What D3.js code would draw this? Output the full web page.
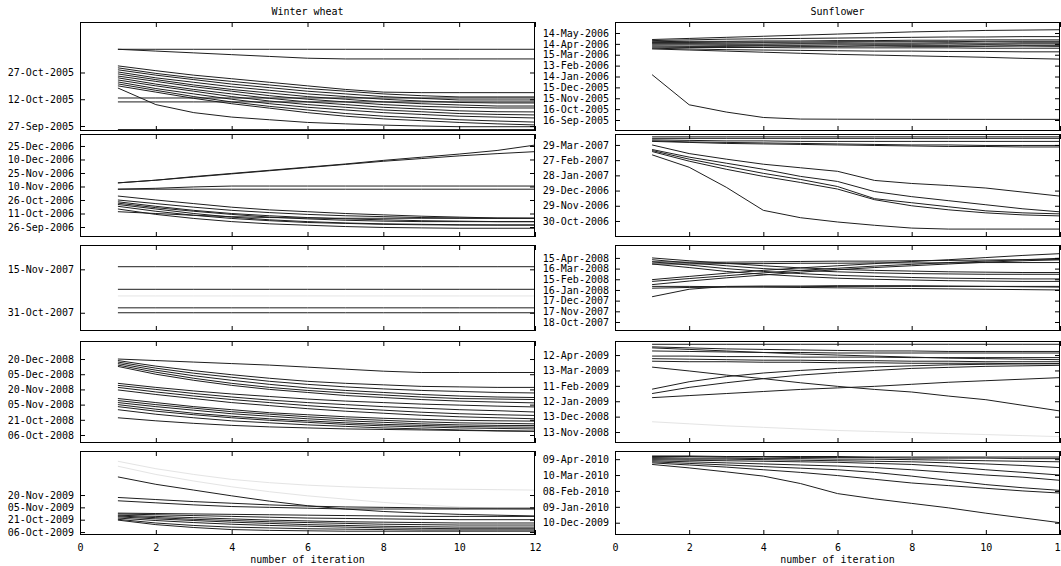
<!DOCTYPE html>
<html>
<head>
<meta charset="utf-8">
<script src="https://cdn.jsdelivr.net/npm/d3@7"></script>
<style>
    body { margin: 0; background: #fff; }
    svg { display: block; font-family: "DejaVu Sans Mono", monospace; font-size: 10px; }
    .frame { fill: none; stroke: #000; stroke-width: 1; }
    .run { fill: none; stroke: #1e1e1e; stroke-width: 1; }
    .run.light { stroke: #e4e4e4; }
</style>
</head>
<body>
<svg id="chart" width="1061" height="566"></svg>
<script>
// iterations on the x axis
const iterations = [1, 2, 3, 4, 5, 6, 7, 8, 9, 10, 11, 12];
const iterationTicks = [0, 2, 4, 6, 8, 10, 12];
const cropTitles = ["Winter wheat", "Sunflower"];

// every value is a number of days after the panel's base date

// Winter wheat 2005
const wheat05Base = "2005-09-27";
const wheat05Range = [-2.8, 58.3];
const wheat05Ticks = ["2005-09-27", "2005-10-12", "2005-10-27"];
const wheat05 = [
    [43, 43, 43, 43, 43, 43, 43, 43, 43, 43, 43, 43],
    [43, 42, 41, 40, 39, 38, 37.6, 37.6, 37.6, 37.6, 37.6, 37.6],
    [33.7, 31, 28.5, 26.5, 24.5, 22.5, 20.5, 19, 18.7, 18.7, 18.7, 18.7],
    [32.6, 29.5, 27, 25, 23, 21, 19.5, 18, 17, 16.3, 16.3, 16.3],
    [31.5, 28.5, 26, 23.5, 21.5, 19.5, 18, 16.5, 15.5, 14.6, 14.6, 14.6],
    [30.3, 27, 24.5, 22, 20, 18, 16.5, 15, 14, 13.2, 12.9, 12.9],
    [29.2, 26, 23, 20.5, 18.5, 16.5, 15, 13.5, 12.5, 11.8, 11.2, 11.2],
    [28, 25, 22, 19.5, 17, 15, 13.5, 12, 11, 10.5, 10.1, 10.1],
    [27, 23.5, 20.5, 18, 15.5, 13.5, 12, 10.5, 9.5, 8.5, 8, 7.9],
    [25.8, 22.5, 19.5, 16.5, 14, 12, 10.5, 9, 8, 7, 6.5, 6.2],
    [24.7, 21, 18, 15, 12.5, 10.5, 9, 7.5, 6.5, 5.5, 5, 4.5],
    [23.6, 20, 16.5, 13.5, 11, 9, 7, 5.5, 4.5, 3.5, 2.8, 2.2],
    [22.5, 19, 15.5, 12.5, 10, 7.5, 5.5, 4, 3, 2, 1.2, 0.6],
    [21.3, 12, 7.5, 5, 3.5, 2, 1.2, 0.5, 0, -0.4, -0.4, -0.4],
    [15.7, 15.7, 15.7, 15.7, 15.7, 15.7, 15.7, 15.7, 15.7, 15.7, 15.7, 15.7],
    [13.5, 13.5, 13.5, 13.5, 13.5, 13.5, 13.5, 13.5, 13.5, 13.5, 13.5, 13.5],
    [-2, -2, -2, -2, -2, -2, -2, -2, -2, -2, -2, -2]
];

// Winter wheat 2006
const wheat06Base = "2006-09-26";
const wheat06Range = [-11.1, 103.3];
const wheat06Ticks = ["2006-09-26", "2006-10-11", "2006-10-26", "2006-11-10", "2006-11-25", "2006-12-10", "2006-12-25"];
const wheat06 = [
    [49, 52, 56, 59.5, 63, 66.5, 70, 74, 77.5, 81, 85, 91],
    [49, 52, 55.5, 59, 62.5, 66, 69.5, 73, 76, 79, 81.5, 83.7],
    [42, 42, 42, 42, 42, 42, 42, 42, 42, 42, 42, 42],
    [42, 43, 44.5, 45.5, 45.5, 45.5, 45.5, 45.5, 45.5, 45.5, 45.5, 45.5],
    [34.4, 30, 26, 22, 19, 17, 15, 13.5, 12, 11, 10, 9.7],
    [30, 26, 22, 18.5, 16, 14, 12.5, 11.5, 10.5, 10, 9.7, 9.7],
    [28, 23, 18.5, 15, 12.5, 10.5, 9, 8, 7, 6.5, 6, 6],
    [26.5, 21.5, 17.5, 14, 11, 9, 7.5, 6.5, 6, 6, 5.9, 5.9],
    [25, 20, 15, 11, 8, 6, 4.5, 3.5, 3, 2.5, 2.2, 2.2],
    [23, 17.5, 13, 9.5, 7, 5, 4, 3, 2.5, 2.2, 2.2, 2.2],
    [20, 14, 9.5, 6, 3.5, 2, 0.5, -0.5, -1, -1.4, -1.4, -1.4],
    [17, 15, 13, 11.5, 10.5, 10, 9.7, 9.7, 9.7, 9.7, 9.7, 9.7]
];

// Winter wheat 2007
const wheat07Base = "2007-10-31";
const wheat07Range = [-6.3, 23.4];
const wheat07Ticks = ["2007-10-31", "2007-11-15"];
const wheat07 = [
    [15.9, 15.9, 15.9, 15.9, 15.9, 15.9, 15.9, 15.9, 15.9, 15.9, 15.9, 15.9],
    [8.1, 8.1, 8.1, 8.1, 8.1, 8.1, 8.1, 8.1, 8.1, 8.1, 8.1, 8.1],
    [1.7, 1.7, 1.7, 1.7, 1.7, 1.7, 1.7, 1.7, 1.7, 1.7, 1.7, 1.7],
    [0, 0, 0, 0, 0, 0, 0, 0, 0, 0, 0, 0]
];
const wheat07Light = [
    [5.8, 5.8, 5.8, 5.8, 5.8, 5.8, 5.8, 5.8, 5.8, 5.8, 5.8, 5.8]
];

// Winter wheat 2008
const wheat08Base = "2008-10-06";
const wheat08Range = [-7.9, 92.8];
const wheat08Ticks = ["2008-10-06", "2008-10-21", "2008-11-05", "2008-11-20", "2008-12-05", "2008-12-20"];
const wheat08 = [
    [75, 73.5, 72, 70.5, 69, 67, 65, 63, 61.7, 61.7, 61.7, 61.7],
    [73.5, 68, 63.5, 59.5, 56, 53, 51, 49.5, 48, 47.5, 47, 47],
    [72, 66, 61, 57, 53, 50, 47.5, 45.5, 44, 43, 42, 41.5],
    [70.5, 64, 58.5, 54, 50, 46.5, 44, 42, 40, 38.5, 37.5, 37],
    [69, 62, 56, 51, 47, 44, 41.5, 39.5, 37.5, 36, 35.5, 35],
    [67.7, 60, 54, 49, 45, 42, 39, 37, 35, 33.5, 32.5, 31.7],
    [51, 47, 43.5, 40.5, 38, 35.5, 33.5, 32, 30.5, 29.5, 28.5, 27.7],
    [49, 45, 41, 37.5, 34.5, 32, 30, 28, 26.5, 25, 24, 22.7],
    [47, 42.5, 38.5, 35, 32, 29, 26.5, 24.5, 22.5, 21, 20, 19.3],
    [44.5, 40, 36, 32, 29, 26, 23.5, 21.5, 19.5, 18, 17, 16],
    [36, 32, 28, 25, 22, 20, 18, 16.5, 15.5, 14.5, 14, 13.7],
    [34, 30, 26.5, 23, 20.5, 18, 16, 14.5, 13, 12, 11.5, 11],
    [32, 28, 24.5, 21, 18.5, 16, 14, 12.5, 11, 10, 9.5, 9.3],
    [30, 25.5, 21.5, 18.5, 16, 14, 12, 10.5, 9.5, 8.5, 8, 7.7],
    [28, 23.5, 20, 17, 14.5, 12.5, 10.5, 9, 8, 7, 6.5, 6],
    [25, 20.5, 17, 14, 12, 10, 8.5, 7, 6, 5, 4.2, 3.7],
    [17, 14, 11.5, 9.5, 8, 7, 6, 5.5, 5, 4.5, 4, 3.7]
];

// Winter wheat 2009
const wheat09Base = "2009-10-06";
const wheat09Range = [-3.6, 98.5];
const wheat09Ticks = ["2009-10-06", "2009-10-21", "2009-11-05", "2009-11-20"];
const wheat09 = [
    [67, 58, 51, 44, 37.5, 32, 28, 25, 23, 21.5, 20.5, 19.5],
    [42, 39.5, 37, 35, 33, 31.5, 30.5, 30, 29.5, 29, 29, 29],
    [38, 35.5, 33, 31, 30, 29, 28, 28, 28, 28, 28, 28],
    [23, 22.5, 22, 21.5, 21, 20.5, 20, 19.5, 19, 19, 19, 19],
    [22, 21, 20, 19, 18, 17, 16.5, 16, 15.5, 15, 15, 15],
    [20.5, 19, 17.5, 16, 14.5, 13.5, 12.5, 12, 11.5, 11, 11, 11],
    [19.5, 17.5, 15.5, 14, 12.5, 11.5, 10.5, 9.5, 9, 8.5, 8.5, 8.5],
    [18.5, 16, 14, 12, 10.5, 9, 8, 7, 6.5, 6, 6, 6],
    [17, 14, 11.5, 9.5, 8, 7, 6, 5, 4.5, 4, 4, 4],
    [15.5, 11, 8, 6, 5, 4, 3.5, 3, 2.5, 2.5, 2.5, 2.5],
    [14.5, 9, 5.5, 3, 2, 1.5, 1, 1, 1, 1, 1, 1]
];
const wheat09Light = [
    [86, 77, 70, 64, 60, 57, 55, 53.5, 52.5, 52, 51.5, 51],
    [80, 70, 62, 55, 49, 44, 40, 36, 33, 30.5, 28.5, 27]
];

// Sunflower 2006
const sun06Base = "2005-09-16";
const sun06Range = [-30.3, 270.3];
const sun06Ticks = ["2005-09-16", "2005-10-16", "2005-11-15", "2005-12-15", "2006-01-14", "2006-02-13", "2006-03-15", "2006-04-14", "2006-05-14"];
const sun06 = [
    [222, 225, 228, 231, 234, 237, 240, 243, 245, 247, 248, 249],
    [219, 221, 223, 224, 225, 226, 227, 228, 229, 229, 230, 230],
    [216, 217, 217, 218, 218, 219, 219, 220, 220, 221, 221, 221],
    [214, 214, 215, 215, 215, 216, 216, 216, 216, 217, 217, 217],
    [212, 212, 212, 213, 212, 213, 212, 212, 213, 212, 213, 213],
    [210, 210, 209, 209, 210, 210, 209, 209, 210, 209, 210, 210],
    [207, 207, 206, 206, 206, 207, 206, 206, 206, 207, 206, 206],
    [204, 203, 203, 204, 203, 203, 204, 203, 203, 203, 204, 203],
    [201, 200, 200, 200, 199, 199, 199, 199, 199, 198, 198, 198],
    [198, 196, 194, 193, 192, 191, 190, 190, 189, 189, 188, 188],
    [196, 193, 190, 187, 184, 181, 179, 177, 175, 173, 170, 168],
    [125, 42, 22, 7, 2.6, 2.2, 2, 1.8, 1.8, 1.8, 1.8, 1.8]
];

// Sunflower 2007
const sun07Base = "2006-10-30";
const sun07Range = [-31.6, 171.6];
const sun07Ticks = ["2006-10-30", "2006-11-29", "2006-12-29", "2007-01-28", "2007-02-27", "2007-03-29"];
const sun07 = [
    [166, 166, 166, 166, 166, 166, 166, 166, 166, 166, 166, 166],
    [163, 163, 163, 163, 163, 163, 163, 163, 163, 163, 163, 163],
    [160, 159, 158, 158, 157, 157, 157, 157, 157, 157, 157, 157],
    [158, 156, 155, 154, 153, 152, 151, 150, 150, 149, 149, 149],
    [157, 155, 153, 152, 151, 150, 149, 148, 147, 147, 146, 146],
    [150, 133, 122, 112, 105, 98, 80, 74, 70, 65, 57, 49],
    [141, 126, 114, 102, 88, 78, 58, 48, 40, 32, 24, 18],
    [139, 122, 108, 94, 82, 68, 44, 36, 28, 20, 16, 14],
    [137, 118, 102, 88, 76, 63, 42, 30, 22, 16, 12, 10],
    [130.5, 106, 66.5, 21, 6.5, -2, -8.5, -14, -16, -16, -16, -16]
];

// Sunflower 2008
const sun08Base = "2007-10-18";
const sun08Range = [-25.3, 216.3];
const sun08Ticks = ["2007-10-18", "2007-11-17", "2007-12-17", "2008-01-16", "2008-02-15", "2008-03-16", "2008-04-15"];
const sun08 = [
    [119, 128, 137, 145, 152, 158, 164, 170, 175, 181, 187, 192],
    [114, 122, 130, 138, 145, 151, 157, 162, 167, 171, 175, 179],
    [105, 115, 124, 132, 140, 147, 153, 158, 163, 168, 172, 175],
    [71, 92, 100, 101, 101, 102, 102, 102, 101, 100, 99, 98],
    [180, 172, 165, 158, 152, 148, 145, 143, 141, 140, 139, 139],
    [175, 166, 158, 150, 145, 141, 138, 136, 135, 134, 134, 134],
    [169, 160, 150, 142, 136, 131, 128, 125, 123, 122, 121, 121],
    [163, 153, 142, 134, 128, 123, 120, 118, 116, 115, 114, 114],
    [100, 100, 99, 98, 97, 96, 95, 94, 93, 92, 91, 90],
    [95, 97, 98, 99, 99, 100, 100, 100, 100, 100, 100, 100],
    [163, 163, 164, 164, 165, 165, 166, 166, 166, 167, 167, 167],
    [169, 168, 168, 169, 170, 171, 171, 172, 173, 174, 175, 175]
];

// Sunflower 2009
const sun09Base = "2008-11-13";
const sun09Range = [-21.4, 177.4];
const sun09Ticks = ["2008-11-13", "2008-12-13", "2009-01-12", "2009-02-11", "2009-03-13", "2009-04-12"];
const sun09 = [
    [171, 171, 171, 171, 171, 171, 171, 171, 171, 171, 171, 171],
    [166, 164, 162, 161, 160, 159, 158, 158, 157, 157, 157, 157],
    [164, 161, 158, 155, 152, 150, 148, 146, 144, 143, 142, 141],
    [158, 157, 156, 155, 155, 154, 154, 154, 154, 154, 154, 154],
    [148, 148, 147, 147, 146, 146, 146, 145, 145, 145, 145, 145],
    [143, 142, 141, 140, 140, 139, 139, 138, 138, 137, 137, 137],
    [138, 137, 137, 136, 136, 135, 135, 134, 134, 134, 133, 133],
    [126.5, 119, 111, 104, 96, 89, 83, 78, 70, 63, 52, 41],
    [83.5, 98, 108, 115, 120, 124, 127, 129, 131, 132, 133, 133.5],
    [75, 87, 96, 104, 111, 116, 120, 124, 126, 128, 129, 130],
    [67, 71, 75, 79, 83, 86, 89, 93, 97, 100, 103, 106]
];
const sun09Light = [
    [20, 16, 12, 9, 6, 3, 1, -1, -3, -5, -7, -9]
];

// Sunflower 2010
const sun10Base = "2009-12-10";
const sun10Range = [-23.2, 135.4];
const sun10Ticks = ["2009-12-10", "2010-01-09", "2010-02-08", "2010-03-10", "2010-04-09"];
const sun10 = [
    [110, 103.5, 96, 88, 74, 55, 45, 36.5, 28, 18, 9, 0],
    [113, 109, 105, 100, 95, 89, 82, 75, 70, 65, 60, 56],
    [115, 112, 109, 106, 103, 100, 95, 88, 80, 72, 66, 61],
    [117, 115, 113, 111, 109, 107, 104, 100, 95, 90, 86, 80],
    [119, 118, 117, 116, 115, 114, 112, 110, 106, 100, 95, 90],
    [121, 120, 120, 119, 118, 117, 116, 115, 113, 111, 108, 104],
    [123, 122, 122, 121, 121, 120, 120, 119, 118, 117, 116, 115],
    [125, 125, 124, 124, 123, 123, 123, 122, 122, 122, 121, 121],
    [126, 126, 125, 125, 125, 125, 124, 124, 124, 124, 124, 124]
];

const panels = [
    { col: 0, row: 0, base: wheat05Base, range: wheat05Range, ticks: wheat05Ticks, runs: wheat05, light: [] },
    { col: 0, row: 1, base: wheat06Base, range: wheat06Range, ticks: wheat06Ticks, runs: wheat06, light: [] },
    { col: 0, row: 2, base: wheat07Base, range: wheat07Range, ticks: wheat07Ticks, runs: wheat07, light: wheat07Light },
    { col: 0, row: 3, base: wheat08Base, range: wheat08Range, ticks: wheat08Ticks, runs: wheat08, light: [] },
    { col: 0, row: 4, base: wheat09Base, range: wheat09Range, ticks: wheat09Ticks, runs: wheat09, light: wheat09Light },
    { col: 1, row: 0, base: sun06Base, range: sun06Range, ticks: sun06Ticks, runs: sun06, light: [] },
    { col: 1, row: 1, base: sun07Base, range: sun07Range, ticks: sun07Ticks, runs: sun07, light: [] },
    { col: 1, row: 2, base: sun08Base, range: sun08Range, ticks: sun08Ticks, runs: sun08, light: [] },
    { col: 1, row: 3, base: sun09Base, range: sun09Range, ticks: sun09Ticks, runs: sun09, light: sun09Light },
    { col: 1, row: 4, base: sun10Base, range: sun10Range, ticks: sun10Ticks, runs: sun10, light: [] }
];

// layout
const columns = [[80, 535], [615, 1060]];
const rows = [[22, 131], [134, 237], [245, 331], [341, 443], [451, 535]];
const tickLen = 5;

const parseDay = d3.utcParse("%Y-%m-%d");
const formatDay = d3.utcFormat("%d-%b-%Y");
const dayMs = 864e5;

function offsetDate(base, days) {
    return new Date(base.getTime() + days * dayMs);
}

const svg = d3.select("#chart");

function drawPanel(p, i) {
    const [x0, x1] = columns[p.col];
    const [y0, y1] = rows[p.row];
    const base = parseDay(p.base);

    const x = d3.scaleLinear().domain([0, 12]).range([x0, x1]);
    const y = d3.scaleUtc()
        .domain([offsetDate(base, p.range[0]), offsetDate(base, p.range[1])])
        .range([y1, y0]);

    const g = svg.append("g").attr("class", "panel");

    svg.append("clipPath").attr("id", `clip${i}`)
        .append("rect")
        .attr("x", x0).attr("y", y0)
        .attr("width", x1 - x0).attr("height", y1 - y0);

    const line = d3.line()
        .x((d, k) => x(iterations[k]))
        .y(d => y(offsetDate(base, d)));

    const marks = g.append("g").attr("clip-path", `url(#clip${i})`);

    marks.selectAll(".light")
        .data(p.light)
        .enter().append("path")
        .attr("class", "run light")
        .attr("d", line);

    marks.selectAll(".dark")
        .data(p.runs)
        .enter().append("path")
        .attr("class", "run dark")
        .attr("d", line);

    const tickDates = p.ticks.map(parseDay);

    // y axis with labels, ticks pointing inward
    const left = g.append("g")
        .attr("transform", `translate(${x0},0)`)
        .call(d3.axisLeft(y).tickValues(tickDates).tickFormat(formatDay)
            .tickSizeInner(-tickLen).tickSizeOuter(0).tickPadding(6));

    // mirrored ticks on the right
    const right = g.append("g")
        .attr("transform", `translate(${x1},0)`)
        .call(d3.axisRight(y).tickValues(tickDates).tickFormat("")
            .tickSizeInner(-tickLen).tickSizeOuter(0));

    const isLast = p.row === rows.length - 1;
    const bottom = g.append("g")
        .attr("transform", `translate(0,${y1})`)
        .call(d3.axisBottom(x).tickValues(iterationTicks)
            .tickFormat(isLast ? d3.format("d") : "")
            .tickSizeInner(-tickLen).tickSizeOuter(0).tickPadding(9));

    const top = g.append("g")
        .attr("transform", `translate(0,${y0})`)
        .call(d3.axisTop(x).tickValues(iterationTicks).tickFormat("")
            .tickSizeInner(-tickLen).tickSizeOuter(0));

    [left, right, bottom, top].forEach(a => {
        a.attr("font-family", null).attr("font-size", null);
        a.select(".domain").remove();
        a.selectAll("line").attr("stroke", "#000");
        a.selectAll("text").attr("fill", "#000");
    });

    g.append("rect")
        .attr("class", "frame")
        .attr("x", x0 + 0.5).attr("y", y0 + 0.5)
        .attr("width", x1 - x0 - 1).attr("height", y1 - y0 - 1);

    if (isLast) {
        g.append("text")
            .attr("x", (x0 + x1) / 2)
            .attr("y", 563)
            .attr("text-anchor", "middle")
            .text("number of iteration");
    }
}

panels.forEach(drawPanel);

cropTitles.forEach((t, c) => {
    svg.append("text")
        .attr("x", (columns[c][0] + columns[c][1]) / 2)
        .attr("y", 15)
        .attr("text-anchor", "middle")
        .text(t);
});
</script>
</body>
</html>
